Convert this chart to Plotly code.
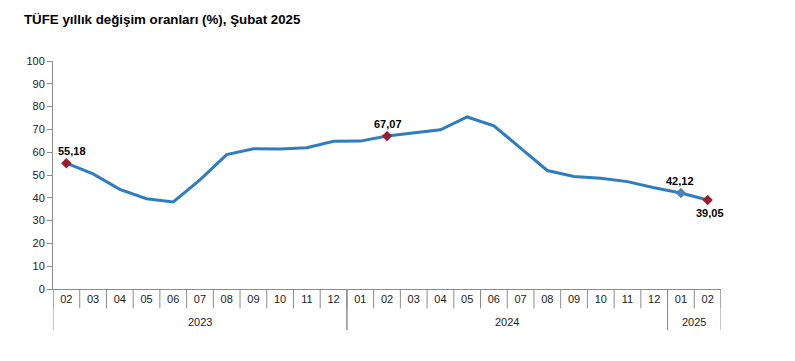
import plotly.graph_objects as go

years = ["2023"] * 11 + ["2024"] * 12 + ["2025"] * 2
months = ["02", "03", "04", "05", "06", "07", "08", "09", "10", "11", "12",
          "01", "02", "03", "04", "05", "06", "07", "08", "09", "10", "11", "12",
          "01", "02"]
values = [55.18, 50.51, 43.68, 39.59, 38.21, 47.83, 58.94, 61.53, 61.36, 61.98, 64.77,
          64.86, 67.07, 68.50, 69.80, 75.45, 71.60, 61.78, 51.97, 49.38, 48.58, 47.09, 44.38,
          42.12, 39.05]
y_ticks = [0, 10, 20, 30, 40, 50, 60, 70, 80, 90, 100]

# labelled points: index, label above?, marker colour, horizontal nudge
labelled = [(0, True, "#9B1B30", 6), (12, True, "#9B1B30", 1),
            (23, True, "#4F81BD", -1), (24, False, "#9B1B30", 2)]

keys = [f"{y}-{m}" for y, m in zip(years, months)]
font = "Liberation Sans, Arial, sans-serif"

W, H = 787, 353

fig = go.Figure()
fig.add_trace(go.Scatter(x=keys, y=values, mode="lines",
                         line=dict(color="#2F7DC0", width=3), hoverinfo="skip"))
annotations = []
for idx, above, col, dx in labelled:
    fig.add_trace(go.Scatter(
        x=[keys[idx]], y=[values[idx]], mode="markers",
        marker=dict(symbol="diamond", size=8, color=col, line=dict(width=0))))
    annotations.append(dict(
        x=idx, y=values[idx], xref="x", yref="y", showarrow=False,
        text="<b>" + f"{values[idx]:.2f}".replace(".", ",") + "</b>",
        yanchor="middle", xshift=dx, yshift=12 if above else -13,
        font=dict(family=font, size=11, color="#000000")))

n = len(keys)
shapes = []
# month separators
for i in range(n + 1):
    shapes.append(dict(type="line", xref="x", yref="paper", x0=i - 0.5, x1=i - 0.5,
                       y0=0, y1=-0.085, line=dict(color="#8C8C8C", width=1)))
# year dividers and labels
groups = []
for i, y in enumerate(years):
    if not groups or groups[-1][0] != y:
        groups.append([y, i, i])
    else:
        groups[-1][2] = i
for y, a, b in groups:
    for xb in (a - 0.5, b + 0.5):
        shapes.append(dict(type="line", xref="x", yref="paper", x0=xb, x1=xb,
                           y0=0, y1=-0.18, line=dict(color="#8C8C8C", width=1)))
    annotations.append(dict(x=(a + b) / 2, y=-0.145, xref="x", yref="paper", text=y,
                            showarrow=False, yanchor="middle",
                            font=dict(family=font, size=11, color="#222222")))

fig.update_layout(
    width=W, height=H,
    margin=dict(l=45, r=74, t=53, b=72),
    paper_bgcolor="white", plot_bgcolor="white",
    showlegend=False,
    title=dict(text="<b>TÜFE yıllık değişim oranları (%), Şubat 2025</b>",
               x=16 / W, xanchor="left", y=1 - 11 / H, yanchor="middle",
               font=dict(family=font, size=13.3, color="#000000")),
    shapes=shapes, annotations=annotations,
    xaxis=dict(type="category", categoryorder="array", categoryarray=keys,
               tickvals=keys, ticktext=months, range=[-0.5, n - 0.5],
               showline=True, linecolor="#8C8C8C", linewidth=1, ticks="",
               showgrid=False, zeroline=False, automargin=False,
               tickfont=dict(family=font, size=11, color="#222222")),
    yaxis=dict(range=[0, 100], tickvals=y_ticks, showline=True, linecolor="#8C8C8C",
               linewidth=1, ticks="outside", ticklen=5, tickcolor="#8C8C8C",
               showgrid=False, zeroline=False, automargin=False,
               tickfont=dict(family=font, size=11, color="#222222")),
)

fig.write_html("out.html")
